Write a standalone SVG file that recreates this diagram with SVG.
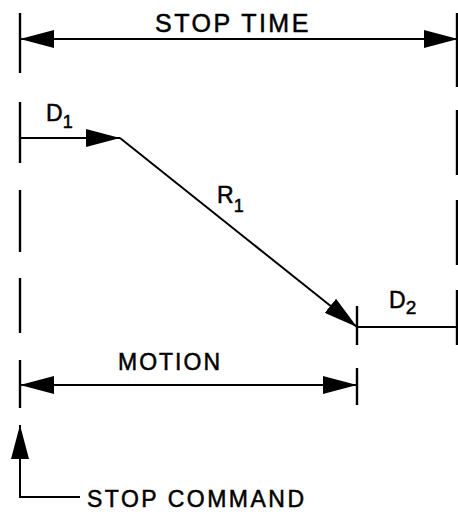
<svg xmlns="http://www.w3.org/2000/svg" width="458" height="518" viewBox="0 0 458 518">
<style>
.ln{stroke:#000;stroke-width:2;fill:none}
.tk{stroke:#000;stroke-width:2.4;fill:none}
.lbl{font-family:"Liberation Sans",Arial,sans-serif;fill:#000;stroke:#000;stroke-width:0.5}
</style>
<defs>
<marker id="ah" viewBox="0 0 34 18" refX="34" refY="9" markerWidth="34" markerHeight="18" markerUnits="userSpaceOnUse" orient="auto-start-reverse">
<path d="M0,0 L34,9 L0,18 Z" fill="#000"/>
</marker>
</defs>
<rect width="458" height="518" fill="#fff"/>
<g id="ticks">
<path class="tk" d="M20,13V73 M20,102V163 M20,190V252 M20,278V333 M20,360V408"/>
<path class="tk" d="M457,13V87 M457,110V175 M457,200V265 M457,290V345"/>
<path class="tk" d="M357,306V345 M357,368V405"/>
</g>
<g id="connectors">
<line class="ln" x1="20" y1="39" x2="458" y2="39" marker-start="url(#ah)" marker-end="url(#ah)"/>
<line class="ln" x1="20" y1="138" x2="120" y2="138" marker-end="url(#ah)"/>
<line class="ln" x1="120" y1="138" x2="357" y2="327" marker-end="url(#ah)"/>
<line class="ln" x1="357" y1="327" x2="458" y2="327"/>
<line class="ln" x1="20" y1="385" x2="357" y2="385" marker-start="url(#ah)" marker-end="url(#ah)"/>
<polyline class="ln" points="80,497 20,497 20,425" marker-end="url(#ah)"/>
</g>
<g id="stop-time"><text class="lbl" x="155" y="32" font-size="25" letter-spacing="2.5">STOP TIME</text></g>
<g id="d1"><text class="lbl" x="46" y="121" font-size="23">D<tspan font-size="18" dy="7">1</tspan></text></g>
<g id="r1"><text class="lbl" x="217" y="203" font-size="23">R<tspan font-size="18" dy="9">1</tspan></text></g>
<g id="d2"><text class="lbl" x="389" y="308" font-size="23">D<tspan font-size="19" dy="6">2</tspan></text></g>
<g id="motion"><text class="lbl" x="118" y="370" font-size="23" letter-spacing="2">MOTION</text></g>
<g id="stop-command"><text class="lbl" x="87" y="507" font-size="23" letter-spacing="2.5">STOP COMMAND</text></g>
</svg>
